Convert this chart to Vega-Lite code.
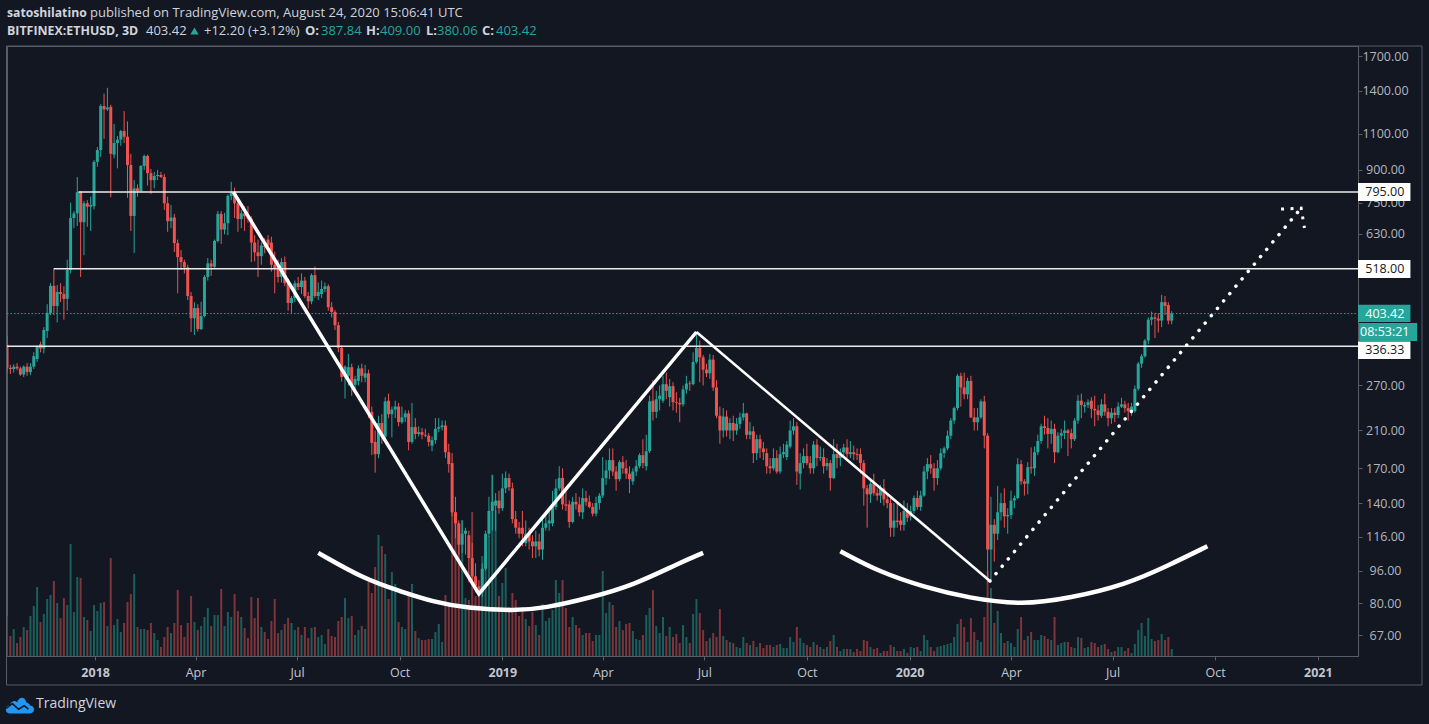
{"$schema":"https://vega.github.io/schema/vega-lite/v6.json","width":1351,"height":610,"autosize":{"type":"none"},"padding":{"left":7,"top":46,"right":71,"bottom":68},"background":"#131722","view":{"stroke":"#5a5d68","fill":"#131722"},"config":{"text":{"font":"Open Sans"},"axis":{"labelFont":"Open Sans"},"scale":{"continuousPadding":0}},
"datasets":{"bars":[
{"d":"2017-10-14","o":339,"h":356,"l":292,"c":298,"v":40},{"d":"2017-10-17","o":298,"h":303,"l":288,"c":296,"v":20},{"d":"2017-10-20","o":296,"h":304,"l":290,"c":300,"v":27},{"d":"2017-10-23","o":300,"h":306,"l":294,"c":297,"v":13},{"d":"2017-10-26","o":297,"h":300,"l":285,"c":287,"v":19},{"d":"2017-10-29","o":287,"h":302,"l":283,"c":300,"v":29},
{"d":"2017-11-01","o":300,"h":306,"l":285,"c":291,"v":26},{"d":"2017-11-04","o":291,"h":306,"l":286,"c":300,"v":40},{"d":"2017-11-07","o":300,"h":325,"l":296,"c":318,"v":50},{"d":"2017-11-10","o":313,"h":338,"l":308,"c":335,"v":69},{"d":"2017-11-13","o":340,"h":345,"l":325,"c":332,"v":34},{"d":"2017-11-16","o":332,"h":374,"l":323,"c":368,"v":42},{"d":"2017-11-19","o":366,"h":425,"l":352,"c":405,"v":57},{"d":"2017-11-22","o":405,"h":478,"l":400,"c":471,"v":61},{"d":"2017-11-25","o":471,"h":520,"l":400,"c":421,"v":75},{"d":"2017-11-28","o":421,"h":473,"l":384,"c":455,"v":53},
{"d":"2017-12-01","o":455,"h":478,"l":430,"c":450,"v":38},{"d":"2017-12-04","o":450,"h":470,"l":390,"c":438,"v":58},{"d":"2017-12-07","o":438,"h":545,"l":410,"c":515,"v":51},{"d":"2017-12-10","o":515,"h":750,"l":505,"c":688,"v":112},{"d":"2017-12-13","o":688,"h":715,"l":650,"c":706,"v":44},{"d":"2017-12-16","o":706,"h":865,"l":658,"c":795,"v":79},{"d":"2017-12-19","o":795,"h":800,"l":495,"c":672,"v":78},{"d":"2017-12-22","o":672,"h":757,"l":559,"c":747,"v":39},{"d":"2017-12-25","o":747,"h":760,"l":655,"c":733,"v":36},{"d":"2017-12-28","o":733,"h":775,"l":640,"c":740,"v":25},{"d":"2017-12-31","o":735,"h":950,"l":722,"c":941,"v":51},
{"d":"2018-01-03","o":941,"h":1023,"l":915,"c":1006,"v":45},{"d":"2018-01-06","o":1006,"h":1300,"l":968,"c":1286,"v":53},{"d":"2018-01-09","o":1286,"h":1378,"l":1070,"c":1262,"v":54},{"d":"2018-01-12","o":1262,"h":1424,"l":1250,"c":1275,"v":30},{"d":"2018-01-15","o":1280,"h":1295,"l":773,"c":985,"v":98},{"d":"2018-01-18","o":980,"h":1163,"l":960,"c":1046,"v":31},{"d":"2018-01-21","o":1046,"h":1088,"l":908,"c":1066,"v":37},{"d":"2018-01-24","o":1066,"h":1125,"l":1030,"c":1118,"v":24},{"d":"2018-01-27","o":1118,"h":1250,"l":1046,"c":1083,"v":33},{"d":"2018-01-30","o":1083,"h":1180,"l":770,"c":925,"v":54},
{"d":"2018-02-02","o":925,"h":985,"l":640,"c":696,"v":62},{"d":"2018-02-05","o":696,"h":850,"l":566,"c":812,"v":82},{"d":"2018-02-08","o":812,"h":830,"l":775,"c":800,"v":29},{"d":"2018-02-11","o":800,"h":925,"l":795,"c":920,"v":27},{"d":"2018-02-14","o":920,"h":980,"l":900,"c":973,"v":27},{"d":"2018-02-17","o":973,"h":980,"l":825,"c":884,"v":26},{"d":"2018-02-20","o":884,"h":905,"l":787,"c":850,"v":33},{"d":"2018-02-23","o":850,"h":890,"l":812,"c":870,"v":23},{"d":"2018-02-26","o":870,"h":900,"l":850,"c":875,"v":16},
{"d":"2018-03-01","o":875,"h":890,"l":860,"c":865,"v":9},{"d":"2018-03-04","o":865,"h":880,"l":720,"c":747,"v":19},{"d":"2018-03-07","o":747,"h":775,"l":637,"c":676,"v":29},{"d":"2018-03-10","o":676,"h":740,"l":650,"c":690,"v":23},{"d":"2018-03-13","o":690,"h":704,"l":569,"c":598,"v":33},{"d":"2018-03-16","o":598,"h":610,"l":452,"c":553,"v":66},{"d":"2018-03-19","o":553,"h":575,"l":515,"c":538,"v":31},{"d":"2018-03-22","o":538,"h":545,"l":505,"c":522,"v":19},{"d":"2018-03-25","o":522,"h":530,"l":435,"c":445,"v":33},{"d":"2018-03-28","o":445,"h":455,"l":364,"c":393,"v":60},{"d":"2018-03-31","o":393,"h":430,"l":358,"c":416,"v":34},
{"d":"2018-04-03","o":416,"h":425,"l":365,"c":370,"v":26},{"d":"2018-04-06","o":370,"h":431,"l":368,"c":398,"v":30},{"d":"2018-04-09","o":398,"h":500,"l":395,"c":495,"v":39},{"d":"2018-04-12","o":495,"h":550,"l":485,"c":534,"v":48},{"d":"2018-04-15","o":534,"h":545,"l":498,"c":524,"v":30},{"d":"2018-04-18","o":524,"h":610,"l":520,"c":605,"v":41},{"d":"2018-04-21","o":605,"h":715,"l":600,"c":704,"v":41},{"d":"2018-04-24","o":704,"h":715,"l":595,"c":645,"v":67},{"d":"2018-04-27","o":645,"h":708,"l":628,"c":668,"v":30},{"d":"2018-04-30","o":668,"h":785,"l":625,"c":778,"v":44},
{"d":"2018-05-03","o":778,"h":842,"l":760,"c":795,"v":39},{"d":"2018-05-06","o":795,"h":815,"l":688,"c":747,"v":62},{"d":"2018-05-09","o":747,"h":760,"l":637,"c":684,"v":45},{"d":"2018-05-12","o":684,"h":720,"l":650,"c":706,"v":39},{"d":"2018-05-15","o":706,"h":735,"l":640,"c":695,"v":28},{"d":"2018-05-18","o":695,"h":735,"l":670,"c":685,"v":18},{"d":"2018-05-21","o":685,"h":695,"l":538,"c":600,"v":59},{"d":"2018-05-24","o":600,"h":625,"l":540,"c":568,"v":38},{"d":"2018-05-27","o":568,"h":610,"l":495,"c":556,"v":58},{"d":"2018-05-30","o":556,"h":600,"l":530,"c":590,"v":29},
{"d":"2018-06-02","o":590,"h":615,"l":565,"c":585,"v":24},{"d":"2018-06-05","o":610,"h":625,"l":575,"c":590,"v":17},{"d":"2018-06-08","o":600,"h":620,"l":510,"c":530,"v":35},{"d":"2018-06-11","o":530,"h":570,"l":452,"c":520,"v":57},{"d":"2018-06-14","o":525,"h":545,"l":480,"c":495,"v":23},{"d":"2018-06-17","o":495,"h":550,"l":480,"c":538,"v":26},{"d":"2018-06-20","o":538,"h":555,"l":470,"c":478,"v":32},{"d":"2018-06-23","o":478,"h":490,"l":410,"c":428,"v":38},{"d":"2018-06-26","o":428,"h":445,"l":405,"c":440,"v":33},{"d":"2018-06-29","o":440,"h":485,"l":430,"c":478,"v":26},
{"d":"2018-07-02","o":478,"h":495,"l":460,"c":468,"v":29},{"d":"2018-07-05","o":468,"h":505,"l":450,"c":485,"v":21},{"d":"2018-07-08","o":485,"h":495,"l":440,"c":445,"v":29},{"d":"2018-07-11","o":445,"h":455,"l":415,"c":432,"v":18},{"d":"2018-07-14","o":432,"h":505,"l":425,"c":500,"v":28},{"d":"2018-07-17","o":500,"h":525,"l":440,"c":445,"v":29},{"d":"2018-07-20","o":445,"h":480,"l":435,"c":455,"v":19},{"d":"2018-07-23","o":450,"h":485,"l":440,"c":463,"v":21},{"d":"2018-07-26","o":463,"h":480,"l":455,"c":470,"v":12},{"d":"2018-07-29","o":470,"h":475,"l":410,"c":418,"v":27},
{"d":"2018-08-01","o":418,"h":430,"l":395,"c":407,"v":20},{"d":"2018-08-04","o":407,"h":412,"l":368,"c":378,"v":19},{"d":"2018-08-07","o":378,"h":385,"l":325,"c":333,"v":35},{"d":"2018-08-10","o":333,"h":338,"l":276,"c":283,"v":39},{"d":"2018-08-13","o":283,"h":302,"l":251,"c":300,"v":58},{"d":"2018-08-16","o":285,"h":322,"l":270,"c":299,"v":38},{"d":"2018-08-19","o":299,"h":305,"l":255,"c":271,"v":40},{"d":"2018-08-22","o":271,"h":285,"l":260,"c":280,"v":21},{"d":"2018-08-25","o":277,"h":302,"l":270,"c":297,"v":26},{"d":"2018-08-28","o":297,"h":305,"l":275,"c":285,"v":30},{"d":"2018-08-31","o":282,"h":303,"l":275,"c":289,"v":27},
{"d":"2018-09-03","o":289,"h":295,"l":225,"c":233,"v":74},{"d":"2018-09-06","o":233,"h":240,"l":183,"c":196,"v":63},{"d":"2018-09-09","o":197,"h":210,"l":166,"c":184,"v":89},{"d":"2018-09-12","o":184,"h":228,"l":180,"c":219,"v":121},{"d":"2018-09-15","o":219,"h":230,"l":195,"c":203,"v":110},{"d":"2018-09-18","o":203,"h":253,"l":200,"c":247,"v":102},{"d":"2018-09-21","o":248,"h":258,"l":225,"c":230,"v":57},{"d":"2018-09-24","o":230,"h":240,"l":202,"c":236,"v":84},{"d":"2018-09-27","o":236,"h":248,"l":225,"c":240,"v":72},{"d":"2018-09-30","o":240,"h":245,"l":215,"c":220,"v":34},
{"d":"2018-10-03","o":220,"h":240,"l":218,"c":226,"v":29},{"d":"2018-10-06","o":226,"h":235,"l":220,"c":231,"v":27},{"d":"2018-10-09","o":231,"h":235,"l":188,"c":197,"v":60},{"d":"2018-10-12","o":197,"h":245,"l":195,"c":214,"v":72},{"d":"2018-10-15","o":214,"h":225,"l":200,"c":206,"v":25},{"d":"2018-10-18","o":206,"h":215,"l":203,"c":208,"v":18},{"d":"2018-10-21","o":208,"h":213,"l":200,"c":205,"v":16},{"d":"2018-10-24","o":205,"h":212,"l":202,"c":204,"v":16},{"d":"2018-10-27","o":204,"h":207,"l":192,"c":197,"v":17},{"d":"2018-10-30","o":193,"h":203,"l":187,"c":199,"v":17},
{"d":"2018-11-02","o":199,"h":225,"l":195,"c":212,"v":24},{"d":"2018-11-05","o":212,"h":225,"l":208,"c":214,"v":32},{"d":"2018-11-08","o":214,"h":222,"l":210,"c":216,"v":14},{"d":"2018-11-11","o":216,"h":222,"l":180,"c":186,"v":61},{"d":"2018-11-14","o":186,"h":195,"l":166,"c":174,"v":51},{"d":"2018-11-17","o":175,"h":185,"l":130,"c":133,"v":156},{"d":"2018-11-20","o":133,"h":145,"l":115,"c":125,"v":144},{"d":"2018-11-23","o":125,"h":127,"l":105,"c":111,"v":133},{"d":"2018-11-26","o":111,"h":127,"l":106,"c":118,"v":136},{"d":"2018-11-29","o":118,"h":122,"l":105,"c":120,"v":58},
{"d":"2018-12-02","o":117,"h":120,"l":90,"c":103,"v":56},{"d":"2018-12-05","o":103,"h":112,"l":90,"c":93,"v":144},{"d":"2018-12-08","o":93,"h":100,"l":85,"c":88,"v":60},{"d":"2018-12-11","o":88,"h":91,"l":84,"c":85,"v":60},{"d":"2018-12-14","o":85,"h":100,"l":83,"c":97,"v":100},{"d":"2018-12-17","o":97,"h":120,"l":96,"c":118,"v":97},{"d":"2018-12-20","o":118,"h":145,"l":116,"c":134,"v":120},{"d":"2018-12-23","o":134,"h":164,"l":120,"c":141,"v":181},{"d":"2018-12-26","o":138,"h":148,"l":120,"c":142,"v":146},{"d":"2018-12-29","o":142,"h":150,"l":132,"c":136,"v":60},
{"d":"2019-01-01","o":136,"h":165,"l":134,"c":152,"v":73},{"d":"2019-01-04","o":152,"h":167,"l":148,"c":161,"v":88},{"d":"2019-01-07","o":161,"h":165,"l":150,"c":153,"v":49},{"d":"2019-01-10","o":152,"h":157,"l":125,"c":128,"v":63},{"d":"2019-01-13","o":128,"h":134,"l":118,"c":122,"v":56},{"d":"2019-01-16","o":122,"h":126,"l":115,"c":118,"v":40},{"d":"2019-01-19","o":122,"h":134,"l":110,"c":118,"v":49},{"d":"2019-01-22","o":112,"h":127,"l":110,"c":118,"v":37},{"d":"2019-01-25","o":118,"h":122,"l":108,"c":113,"v":30},{"d":"2019-01-28","o":113,"h":117,"l":103,"c":110,"v":44},{"d":"2019-01-31","o":110,"h":120,"l":103,"c":113,"v":31},
{"d":"2019-02-03","o":113,"h":118,"l":104,"c":108,"v":21},{"d":"2019-02-06","o":108,"h":128,"l":102,"c":122,"v":52},{"d":"2019-02-09","o":122,"h":133,"l":120,"c":125,"v":35},{"d":"2019-02-12","o":125,"h":135,"l":120,"c":127,"v":38},{"d":"2019-02-15","o":125,"h":150,"l":123,"c":137,"v":46},{"d":"2019-02-18","o":137,"h":160,"l":135,"c":152,"v":76},{"d":"2019-02-21","o":152,"h":172,"l":150,"c":161,"v":63},{"d":"2019-02-24","o":161,"h":170,"l":135,"c":139,"v":76},{"d":"2019-02-27","o":139,"h":150,"l":134,"c":138,"v":48},
{"d":"2019-03-02","o":139,"h":142,"l":122,"c":126,"v":29},{"d":"2019-03-05","o":126,"h":145,"l":125,"c":141,"v":39},{"d":"2019-03-08","o":141,"h":148,"l":135,"c":139,"v":31},{"d":"2019-03-11","o":139,"h":145,"l":130,"c":133,"v":28},{"d":"2019-03-14","o":133,"h":152,"l":128,"c":144,"v":21},{"d":"2019-03-17","o":144,"h":150,"l":138,"c":141,"v":23},{"d":"2019-03-20","o":141,"h":146,"l":136,"c":137,"v":23},{"d":"2019-03-23","o":137,"h":140,"l":130,"c":132,"v":15},{"d":"2019-03-26","o":132,"h":145,"l":130,"c":140,"v":21},{"d":"2019-03-29","o":140,"h":148,"l":135,"c":146,"v":21},
{"d":"2019-04-01","o":146,"h":181,"l":144,"c":161,"v":85},{"d":"2019-04-04","o":161,"h":178,"l":155,"c":168,"v":43},{"d":"2019-04-07","o":168,"h":190,"l":160,"c":178,"v":54},{"d":"2019-04-10","o":178,"h":190,"l":163,"c":167,"v":51},{"d":"2019-04-13","o":167,"h":172,"l":150,"c":160,"v":29},{"d":"2019-04-16","o":160,"h":178,"l":158,"c":176,"v":35},{"d":"2019-04-19","o":176,"h":182,"l":165,"c":170,"v":26},{"d":"2019-04-22","o":170,"h":178,"l":160,"c":165,"v":32},{"d":"2019-04-25","o":165,"h":172,"l":148,"c":160,"v":33},{"d":"2019-04-28","o":158,"h":170,"l":155,"c":167,"v":25},
{"d":"2019-05-01","o":167,"h":178,"l":163,"c":172,"v":17},{"d":"2019-05-04","o":172,"h":185,"l":170,"c":183,"v":16},{"d":"2019-05-07","o":183,"h":200,"l":170,"c":175,"v":21},{"d":"2019-05-10","o":172,"h":205,"l":168,"c":187,"v":41},{"d":"2019-05-13","o":187,"h":255,"l":185,"c":247,"v":48},{"d":"2019-05-16","o":248,"h":278,"l":222,"c":233,"v":66},{"d":"2019-05-19","o":233,"h":262,"l":225,"c":250,"v":30},{"d":"2019-05-22","o":250,"h":270,"l":235,"c":255,"v":23},{"d":"2019-05-25","o":248,"h":285,"l":245,"c":272,"v":39},{"d":"2019-05-28","o":272,"h":290,"l":250,"c":262,"v":20},{"d":"2019-05-31","o":253,"h":280,"l":240,"c":269,"v":29},
{"d":"2019-06-03","o":269,"h":275,"l":235,"c":246,"v":19},{"d":"2019-06-06","o":246,"h":260,"l":232,"c":245,"v":22},{"d":"2019-06-09","o":245,"h":252,"l":220,"c":243,"v":13},{"d":"2019-06-12","o":243,"h":270,"l":240,"c":264,"v":31},{"d":"2019-06-15","o":264,"h":285,"l":258,"c":273,"v":19},{"d":"2019-06-18","o":273,"h":277,"l":262,"c":272,"v":13},{"d":"2019-06-21","o":272,"h":325,"l":270,"c":308,"v":42},{"d":"2019-06-24","o":308,"h":364,"l":305,"c":333,"v":57},{"d":"2019-06-27","o":333,"h":347,"l":275,"c":316,"v":43},{"d":"2019-06-30","o":316,"h":320,"l":270,"c":295,"v":26},
{"d":"2019-07-03","o":295,"h":305,"l":283,"c":289,"v":15},{"d":"2019-07-06","o":289,"h":322,"l":280,"c":312,"v":18},{"d":"2019-07-09","o":312,"h":320,"l":262,"c":267,"v":23},{"d":"2019-07-12","o":267,"h":278,"l":225,"c":228,"v":19},{"d":"2019-07-15","o":228,"h":240,"l":195,"c":210,"v":47},{"d":"2019-07-18","o":210,"h":238,"l":202,"c":227,"v":20},{"d":"2019-07-21","o":227,"h":235,"l":203,"c":210,"v":16},{"d":"2019-07-24","o":210,"h":225,"l":200,"c":219,"v":14},{"d":"2019-07-27","o":219,"h":228,"l":198,"c":210,"v":13},{"d":"2019-07-30","o":210,"h":225,"l":205,"c":218,"v":9},
{"d":"2019-08-02","o":218,"h":232,"l":212,"c":226,"v":8},{"d":"2019-08-05","o":226,"h":245,"l":222,"c":231,"v":19},{"d":"2019-08-08","o":231,"h":232,"l":200,"c":205,"v":13},{"d":"2019-08-11","o":205,"h":220,"l":200,"c":209,"v":11},{"d":"2019-08-14","o":209,"h":215,"l":175,"c":185,"v":15},{"d":"2019-08-17","o":185,"h":205,"l":178,"c":200,"v":9},{"d":"2019-08-20","o":200,"h":205,"l":180,"c":190,"v":13},{"d":"2019-08-23","o":190,"h":197,"l":178,"c":186,"v":8},{"d":"2019-08-26","o":185,"h":190,"l":165,"c":172,"v":11},{"d":"2019-08-29","o":172,"h":180,"l":165,"c":170,"v":11},
{"d":"2019-09-01","o":170,"h":190,"l":168,"c":180,"v":9},{"d":"2019-09-04","o":180,"h":188,"l":165,"c":167,"v":11},{"d":"2019-09-07","o":167,"h":192,"l":165,"c":184,"v":12},{"d":"2019-09-10","o":184,"h":195,"l":180,"c":186,"v":8},{"d":"2019-09-13","o":181,"h":198,"l":178,"c":194,"v":8},{"d":"2019-09-16","o":192,"h":222,"l":190,"c":210,"v":19},{"d":"2019-09-19","o":210,"h":225,"l":205,"c":215,"v":14},{"d":"2019-09-22","o":215,"h":220,"l":155,"c":167,"v":29},{"d":"2019-09-25","o":165,"h":185,"l":151,"c":175,"v":18},{"d":"2019-09-28","o":175,"h":190,"l":170,"c":182,"v":13},
{"d":"2019-10-01","o":182,"h":195,"l":173,"c":175,"v":11},{"d":"2019-10-04","o":175,"h":182,"l":165,"c":170,"v":9},{"d":"2019-10-07","o":170,"h":198,"l":165,"c":194,"v":14},{"d":"2019-10-10","o":194,"h":200,"l":172,"c":180,"v":11},{"d":"2019-10-13","o":180,"h":192,"l":177,"c":181,"v":9},{"d":"2019-10-16","o":181,"h":190,"l":165,"c":172,"v":7},{"d":"2019-10-19","o":172,"h":180,"l":168,"c":175,"v":9},{"d":"2019-10-22","o":175,"h":178,"l":150,"c":161,"v":15},{"d":"2019-10-25","o":161,"h":200,"l":160,"c":184,"v":21},{"d":"2019-10-28","o":184,"h":195,"l":170,"c":180,"v":9},{"d":"2019-10-31","o":180,"h":190,"l":172,"c":186,"v":5},
{"d":"2019-11-03","o":186,"h":195,"l":180,"c":191,"v":7},{"d":"2019-11-06","o":191,"h":200,"l":180,"c":184,"v":7},{"d":"2019-11-09","o":184,"h":198,"l":180,"c":186,"v":7},{"d":"2019-11-12","o":186,"h":193,"l":178,"c":184,"v":4},{"d":"2019-11-15","o":184,"h":190,"l":178,"c":183,"v":7},{"d":"2019-11-18","o":184,"h":190,"l":165,"c":175,"v":5},{"d":"2019-11-21","o":175,"h":178,"l":138,"c":152,"v":16},{"d":"2019-11-24","o":152,"h":155,"l":122,"c":147,"v":15},{"d":"2019-11-27","o":147,"h":160,"l":140,"c":156,"v":9},{"d":"2019-11-30","o":156,"h":165,"l":146,"c":148,"v":7},
{"d":"2019-12-03","o":148,"h":152,"l":142,"c":146,"v":8},{"d":"2019-12-06","o":146,"h":155,"l":140,"c":152,"v":3},{"d":"2019-12-09","o":152,"h":160,"l":138,"c":143,"v":5},{"d":"2019-12-12","o":143,"h":148,"l":136,"c":140,"v":5},{"d":"2019-12-15","o":140,"h":145,"l":116,"c":122,"v":11},{"d":"2019-12-18","o":122,"h":140,"l":116,"c":127,"v":9},{"d":"2019-12-21","o":127,"h":140,"l":122,"c":126,"v":5},{"d":"2019-12-24","o":127,"h":133,"l":120,"c":124,"v":5},{"d":"2019-12-27","o":124,"h":142,"l":120,"c":134,"v":7},{"d":"2019-12-30","o":134,"h":140,"l":126,"c":129,"v":3},
{"d":"2020-01-02","o":130,"h":138,"l":127,"c":134,"v":9},{"d":"2020-01-05","o":134,"h":146,"l":132,"c":144,"v":8},{"d":"2020-01-08","o":144,"h":150,"l":135,"c":137,"v":9},{"d":"2020-01-11","o":137,"h":150,"l":134,"c":146,"v":5},{"d":"2020-01-14","o":146,"h":172,"l":145,"c":167,"v":21},{"d":"2020-01-17","o":167,"h":180,"l":160,"c":174,"v":16},{"d":"2020-01-20","o":174,"h":183,"l":165,"c":170,"v":9},{"d":"2020-01-23","o":170,"h":175,"l":150,"c":161,"v":5},{"d":"2020-01-26","o":161,"h":178,"l":155,"c":170,"v":9},{"d":"2020-01-29","o":170,"h":190,"l":168,"c":185,"v":10},
{"d":"2020-02-01","o":185,"h":192,"l":180,"c":190,"v":11},{"d":"2020-02-04","o":190,"h":210,"l":188,"c":204,"v":12},{"d":"2020-02-07","o":204,"h":225,"l":200,"c":222,"v":13},{"d":"2020-02-10","o":222,"h":240,"l":218,"c":238,"v":19},{"d":"2020-02-13","o":238,"h":288,"l":235,"c":285,"v":32},{"d":"2020-02-16","o":285,"h":290,"l":240,"c":267,"v":37},{"d":"2020-02-19","o":267,"h":290,"l":250,"c":257,"v":29},{"d":"2020-02-22","o":257,"h":282,"l":250,"c":277,"v":14},{"d":"2020-02-25","o":277,"h":285,"l":225,"c":226,"v":38},{"d":"2020-02-28","o":226,"h":238,"l":210,"c":220,"v":24},
{"d":"2020-03-02","o":220,"h":238,"l":210,"c":226,"v":16},{"d":"2020-03-05","o":226,"h":250,"l":224,"c":247,"v":14},{"d":"2020-03-08","o":247,"h":255,"l":190,"c":204,"v":39},{"d":"2020-03-11","o":204,"h":207,"l":90,"c":108,"v":85},{"d":"2020-03-14","o":108,"h":145,"l":90,"c":124,"v":68},{"d":"2020-03-17","o":124,"h":128,"l":101,"c":118,"v":33},{"d":"2020-03-20","o":118,"h":154,"l":114,"c":133,"v":45},{"d":"2020-03-23","o":133,"h":148,"l":127,"c":140,"v":23},{"d":"2020-03-26","o":140,"h":152,"l":122,"c":130,"v":13},{"d":"2020-03-29","o":130,"h":136,"l":118,"c":131,"v":15},
{"d":"2020-04-01","o":131,"h":150,"l":128,"c":142,"v":13},{"d":"2020-04-04","o":142,"h":146,"l":136,"c":144,"v":9},{"d":"2020-04-07","o":144,"h":180,"l":143,"c":174,"v":27},{"d":"2020-04-10","o":174,"h":178,"l":155,"c":158,"v":39},{"d":"2020-04-13","o":158,"h":160,"l":146,"c":156,"v":16},{"d":"2020-04-16","o":156,"h":176,"l":147,"c":171,"v":20},{"d":"2020-04-19","o":171,"h":191,"l":165,"c":170,"v":24},{"d":"2020-04-22","o":170,"h":192,"l":163,"c":186,"v":16},{"d":"2020-04-25","o":186,"h":205,"l":183,"c":198,"v":16},{"d":"2020-04-28","o":198,"h":218,"l":195,"c":215,"v":21},
{"d":"2020-05-01","o":215,"h":228,"l":205,"c":213,"v":20},{"d":"2020-05-04","o":213,"h":225,"l":190,"c":206,"v":17},{"d":"2020-05-07","o":206,"h":222,"l":195,"c":212,"v":16},{"d":"2020-05-10","o":212,"h":218,"l":175,"c":186,"v":39},{"d":"2020-05-13","o":186,"h":208,"l":185,"c":204,"v":11},{"d":"2020-05-16","o":204,"h":212,"l":190,"c":207,"v":13},{"d":"2020-05-19","o":207,"h":222,"l":200,"c":210,"v":14},{"d":"2020-05-22","o":210,"h":212,"l":182,"c":207,"v":14},{"d":"2020-05-25","o":207,"h":212,"l":190,"c":200,"v":9},{"d":"2020-05-28","o":200,"h":225,"l":198,"c":222,"v":8},{"d":"2020-05-31","o":222,"h":256,"l":218,"c":248,"v":19},
{"d":"2020-06-03","o":248,"h":258,"l":225,"c":242,"v":18},{"d":"2020-06-06","o":240,"h":246,"l":232,"c":242,"v":8},{"d":"2020-06-09","o":242,"h":250,"l":238,"c":246,"v":9},{"d":"2020-06-12","o":248,"h":253,"l":225,"c":237,"v":14},{"d":"2020-06-15","o":237,"h":255,"l":215,"c":235,"v":13},{"d":"2020-06-18","o":235,"h":242,"l":222,"c":229,"v":9},{"d":"2020-06-21","o":228,"h":250,"l":225,"c":243,"v":11},{"d":"2020-06-24","o":243,"h":258,"l":228,"c":233,"v":12},{"d":"2020-06-27","o":233,"h":238,"l":215,"c":225,"v":7},{"d":"2020-06-30","o":225,"h":238,"l":218,"c":232,"v":4},
{"d":"2020-07-03","o":232,"h":238,"l":220,"c":229,"v":5},{"d":"2020-07-06","o":229,"h":246,"l":225,"c":240,"v":9},{"d":"2020-07-09","o":240,"h":252,"l":238,"c":243,"v":9},{"d":"2020-07-12","o":243,"h":248,"l":232,"c":238,"v":5},{"d":"2020-07-15","o":238,"h":245,"l":222,"c":234,"v":8},{"d":"2020-07-18","o":234,"h":245,"l":228,"c":240,"v":3},{"d":"2020-07-21","o":234,"h":270,"l":232,"c":265,"v":12},{"d":"2020-07-24","o":265,"h":308,"l":262,"c":305,"v":26},{"d":"2020-07-27","o":305,"h":322,"l":298,"c":318,"v":33},{"d":"2020-07-30","o":318,"h":350,"l":315,"c":347,"v":20},
{"d":"2020-08-02","o":347,"h":395,"l":340,"c":390,"v":38},{"d":"2020-08-05","o":390,"h":408,"l":378,"c":395,"v":17},{"d":"2020-08-08","o":395,"h":405,"l":352,"c":392,"v":15},{"d":"2020-08-11","o":392,"h":404,"l":363,"c":388,"v":16},{"d":"2020-08-14","o":388,"h":448,"l":374,"c":430,"v":22},{"d":"2020-08-17","o":430,"h":445,"l":400,"c":421,"v":16},{"d":"2020-08-20","o":423,"h":430,"l":380,"c":388,"v":19},{"d":"2020-08-23","o":387.84,"h":409,"l":380.06,"c":403.42,"v":7}
]},
"resolve":{"scale":{"y":"independent"},"axis":{"x":"independent","y":"independent"}},
"layer":[
{"data":{"name":"bars"},"mark":{"type":"bar","size":2,"clip":true},"encoding":{
"x":{"field":"d","type":"temporal","title":null,"scale":{"type":"utc","padding":0,"domain":[{"year":2017,"month":10,"date":14,"utc":true},{"year":2021,"month":2,"date":6,"utc":true}]},"axis":{"values":[{"year":2018,"month":1,"date":1,"utc":true},{"year":2018,"month":4,"date":1,"utc":true},{"year":2018,"month":7,"date":1,"utc":true},{"year":2018,"month":10,"date":1,"utc":true},{"year":2019,"month":1,"date":1,"utc":true},{"year":2019,"month":4,"date":1,"utc":true},{"year":2019,"month":7,"date":1,"utc":true},{"year":2019,"month":10,"date":1,"utc":true},{"year":2020,"month":1,"date":1,"utc":true},{"year":2020,"month":4,"date":1,"utc":true},{"year":2020,"month":7,"date":1,"utc":true},{"year":2020,"month":10,"date":1,"utc":true},{"year":2021,"month":1,"date":1,"utc":true}],"grid":false,"labelExpr":"utcmonth(datum.value)===0?utcFormat(datum.value,'%Y'):utcFormat(datum.value,'%b')","labelFontWeight":{"condition":{"test":"utcmonth(datum.value)===0","value":"bold"},"value":"normal"},"labelColor":"#c3c6ce","labelFontSize":12.5,"labelPadding":6,"tickSize":4,"tickColor":"#5a5d68","domainColor":"#5a5d68","labelFlush":false,"labelOverlap":false}},
"y":{"field":"v","type":"quantitative","title":null,"axis":null,"scale":{"domain":[0,610],"nice":false}},
"color":{"condition":{"test":"datum.c>=datum.o","value":"#1b5f5d"},"value":"#7f3439"}}},
{"resolve":{"axis":{"x":"independent","y":"independent"}},"layer":[
{"data":{"name":"bars"},"mark":{"type":"rule","strokeWidth":1,"clip":true},"encoding":{
"x":{"field":"d","type":"temporal","title":null,"axis":null,"scale":{"type":"utc","domain":[{"year":2017,"month":10,"date":14,"utc":true},{"year":2021,"month":2,"date":6,"utc":true}]}},
"y":{"field":"h","type":"quantitative","title":null,"scale":{"type":"log","base":10,"domain":[59.6,1798],"nice":false,"zero":false},"axis":{"orient":"right","values":[1700,1400,1100,900,795,750,630,518,403.42,336.33,270,210,170,140,116,96,80,67],"grid":false,"labelExpr":"indexof([795,518,403.42,336.33],datum.value)>=0?'':format(datum.value,'.2f')","labelAlign":"center","labelPadding":23,"labelColor":"#b2b5be","labelFontSize":12.5,"tickSize":4,"tickColor":"#5a5d68","domainColor":"#5a5d68","labelOverlap":false,"labelBound":false}},
"y2":{"field":"l"},
"color":{"condition":{"test":"datum.c>=datum.o","value":"#26a69a"},"value":"#ef5350"}}},
{"data":{"name":"bars"},"mark":{"type":"bar","size":3,"clip":true},"encoding":{
"x":{"field":"d","type":"temporal","title":null,"axis":null,"scale":{"type":"utc","domain":[{"year":2017,"month":10,"date":14,"utc":true},{"year":2021,"month":2,"date":6,"utc":true}]}},
"y":{"field":"o","type":"quantitative","title":null,"axis":null,"scale":{"type":"log","base":10,"domain":[59.6,1798],"nice":false,"zero":false}},
"y2":{"field":"c"},
"color":{"condition":{"test":"datum.c>=datum.o","value":"#26a69a"},"value":"#ef5350"}}},
{"data":{"values":[{"p":403.42,"a":"2017-10-14","b":"2021-02-06"}]},"mark":{"type":"rule","strokeWidth":1,"strokeDash":[1.5,2],"color":"#26a69a"},"encoding":{
"x":{"field":"a","type":"temporal","title":null,"axis":null,"scale":{"type":"utc","domain":[{"year":2017,"month":10,"date":14,"utc":true},{"year":2021,"month":2,"date":6,"utc":true}]}},"x2":{"field":"b"},
"y":{"field":"p","type":"quantitative","title":null,"axis":null,"scale":{"type":"log","base":10,"domain":[59.6,1798],"nice":false,"zero":false}}}},
{"data":{"values":[{"p":795,"a":"2017-12-17","b":"2021-02-06"},{"p":518,"a":"2017-11-25","b":"2021-02-06"},{"p":336.33,"a":"2017-10-14","b":"2021-02-06"}]},"mark":{"type":"rule","strokeWidth":1.5,"color":"#ececec"},"encoding":{
"x":{"field":"a","type":"temporal","title":null,"axis":null,"scale":{"type":"utc","domain":[{"year":2017,"month":10,"date":14,"utc":true},{"year":2021,"month":2,"date":6,"utc":true}]}},"x2":{"field":"b"},
"y":{"field":"p","type":"quantitative","title":null,"axis":null,"scale":{"type":"log","base":10,"domain":[59.6,1798],"nice":false,"zero":false}}}},
{"data":{"values":[{"t":"2018-05-05","p":795},{"t":"2018-12-11","p":84.3},{"t":"2019-06-24","p":364}]},"mark":{"type":"line","color":"#ffffff","strokeWidth":3.5,"strokeJoin":"miter"},"encoding":{
"x":{"field":"t","type":"temporal","title":null,"axis":null,"scale":{"type":"utc","domain":[{"year":2017,"month":10,"date":14,"utc":true},{"year":2021,"month":2,"date":6,"utc":true}]}},
"y":{"field":"p","type":"quantitative","title":null,"axis":null,"scale":{"type":"log","base":10,"domain":[59.6,1798],"nice":false,"zero":false}}}},
{"data":{"values":[{"t":"2019-06-24","p":364},{"t":"2020-03-13","p":90.6}]},"mark":{"type":"line","color":"#ffffff","strokeWidth":2.6},"encoding":{
"x":{"field":"t","type":"temporal","title":null,"axis":null,"scale":{"type":"utc","domain":[{"year":2017,"month":10,"date":14,"utc":true},{"year":2021,"month":2,"date":6,"utc":true}]}},
"y":{"field":"p","type":"quantitative","title":null,"axis":null,"scale":{"type":"log","base":10,"domain":[59.6,1798],"nice":false,"zero":false}}}},
{"data":{"values":[{"t":"2020-03-13","p":90.6},{"t":"2020-12-17","p":727}]},"mark":{"type":"line","color":"#ffffff","strokeWidth":3.5,"strokeDash":[0.1,9.5],"strokeCap":"round"},"encoding":{
"x":{"field":"t","type":"temporal","title":null,"axis":null,"scale":{"type":"utc","domain":[{"year":2017,"month":10,"date":14,"utc":true},{"year":2021,"month":2,"date":6,"utc":true}]}},
"y":{"field":"p","type":"quantitative","title":null,"axis":null,"scale":{"type":"log","base":10,"domain":[59.6,1798],"nice":false,"zero":false}}}},
{"data":{"values":[{"t":"2020-11-29","p":723},{"t":"2020-12-17","p":727},{"t":"2020-12-20","p":651}]},"mark":{"type":"line","color":"#ffffff","strokeWidth":3,"strokeDash":[3,6.5]},"encoding":{
"x":{"field":"t","type":"temporal","title":null,"axis":null,"scale":{"type":"utc","domain":[{"year":2017,"month":10,"date":14,"utc":true},{"year":2021,"month":2,"date":6,"utc":true}]}},
"y":{"field":"p","type":"quantitative","title":null,"axis":null,"scale":{"type":"log","base":10,"domain":[59.6,1798],"nice":false,"zero":false}}}},
{"data":{"values":[{"t":"2018-07-20","p":106},{"t":"2018-09-01","p":91.1},{"t":"2018-10-01","p":85.7},{"t":"2018-10-31","p":80.6},{"t":"2018-11-30","p":77.9},{"t":"2019-01-12","p":76.6},{"t":"2019-02-08","p":77.9},{"t":"2019-03-20","p":82.4},{"t":"2019-04-29","p":88.6},{"t":"2019-06-08","p":100},{"t":"2019-06-30","p":106}]},"mark":{"type":"line","color":"#ffffff","strokeWidth":4.5,"interpolate":"basis"},"encoding":{
"x":{"field":"t","type":"temporal","title":null,"axis":null,"scale":{"type":"utc","domain":[{"year":2017,"month":10,"date":14,"utc":true},{"year":2021,"month":2,"date":6,"utc":true}]}},
"y":{"field":"p","type":"quantitative","title":null,"axis":null,"scale":{"type":"log","base":10,"domain":[59.6,1798],"nice":false,"zero":false}}}},
{"data":{"values":[{"t":"2019-10-31","p":107},{"t":"2019-12-05","p":95.3},{"t":"2020-01-14","p":87.6},{"t":"2020-02-23","p":82.4},{"t":"2020-04-11","p":79.2},{"t":"2020-05-24","p":82.4},{"t":"2020-07-12","p":88.6},{"t":"2020-08-21","p":99.1},{"t":"2020-09-24","p":110}]},"mark":{"type":"line","color":"#ffffff","strokeWidth":4.5,"interpolate":"basis"},"encoding":{
"x":{"field":"t","type":"temporal","title":null,"axis":null,"scale":{"type":"utc","domain":[{"year":2017,"month":10,"date":14,"utc":true},{"year":2021,"month":2,"date":6,"utc":true}]}},
"y":{"field":"p","type":"quantitative","title":null,"axis":null,"scale":{"type":"log","base":10,"domain":[59.6,1798],"nice":false,"zero":false}}}},
{"data":{"values":[{"a":"2021-02-06","b":"2021-03-25","t":836,"u":757},{"a":"2021-02-06","b":"2021-03-25","t":544,"u":492},{"a":"2021-02-06","b":"2021-03-25","t":345,"u":313}]},"mark":{"type":"rect","color":"#ffffff"},"encoding":{
"x":{"field":"a","type":"temporal","title":null,"axis":null,"scale":{"type":"utc","domain":[{"year":2017,"month":10,"date":14,"utc":true},{"year":2021,"month":2,"date":6,"utc":true}]}},"x2":{"field":"b"},
"y":{"field":"t","type":"quantitative","title":null,"axis":null,"scale":{"type":"log","base":10,"domain":[59.6,1798],"nice":false,"zero":false}},"y2":{"field":"u"}}},
{"data":{"values":[{"a":"2021-02-06","b":"2021-03-25","t":424,"u":385},{"a":"2021-02-07","b":"2021-03-31","t":383,"u":346}]},"mark":{"type":"rect","color":"#26a69a"},"encoding":{
"x":{"field":"a","type":"temporal","title":null,"axis":null,"scale":{"type":"utc","domain":[{"year":2017,"month":10,"date":14,"utc":true},{"year":2021,"month":2,"date":6,"utc":true}]}},"x2":{"field":"b"},
"y":{"field":"t","type":"quantitative","title":null,"axis":null,"scale":{"type":"log","base":10,"domain":[59.6,1798],"nice":false,"zero":false}},"y2":{"field":"u"}}},
{"data":{"values":[{"a":"2021-03-02","p":795,"s":"795.00"},{"a":"2021-03-02","p":518,"s":"518.00"},{"a":"2021-03-02","p":329,"s":"336.33"}]},"mark":{"type":"text","color":"#131722","fontSize":12.5,"align":"center","baseline":"middle"},"encoding":{
"x":{"field":"a","type":"temporal","title":null,"axis":null,"scale":{"type":"utc","domain":[{"year":2017,"month":10,"date":14,"utc":true},{"year":2021,"month":2,"date":6,"utc":true}]}},
"y":{"field":"p","type":"quantitative","title":null,"axis":null,"scale":{"type":"log","base":10,"domain":[59.6,1798],"nice":false,"zero":false}},"text":{"field":"s"}}},
{"data":{"values":[{"a":"2021-03-02","p":403.42,"s":"403.42"},{"a":"2021-03-02","p":364,"s":"08:53:21"}]},"mark":{"type":"text","color":"#ffffff","fontSize":12.5,"align":"center","baseline":"middle"},"encoding":{
"x":{"field":"a","type":"temporal","title":null,"axis":null,"scale":{"type":"utc","domain":[{"year":2017,"month":10,"date":14,"utc":true},{"year":2021,"month":2,"date":6,"utc":true}]}},
"y":{"field":"p","type":"quantitative","title":null,"axis":null,"scale":{"type":"log","base":10,"domain":[59.6,1798],"nice":false,"zero":false}},"text":{"field":"s"}}}
]},
{"data":{"values":[{}]},"mark":{"type":"rect","x":-0.5,"y":0,"x2":1415,"y2":639,"fill":null,"fillOpacity":0,"stroke":"#5a5d68","strokeWidth":1}},
{"data":{"values":[{}]},"mark":{"type":"text","text":"satoshilatino","x":0,"y":-33,"align":"left","baseline":"middle","fontSize":12.2,"fontWeight":"bold","color":"#d1d4dc"}},
{"data":{"values":[{}]},"mark":{"type":"text","text":"published on TradingView.com, August 24, 2020 15:06:41 UTC","x":83,"y":-33,"align":"left","baseline":"middle","fontSize":13,"color":"#d1d4dc"}},
{"data":{"values":[{}]},"mark":{"type":"text","text":"BITFINEX:ETHUSD, 3D","x":0,"y":-15,"align":"left","baseline":"middle","fontSize":12.4,"fontWeight":"bold","color":"#d1d4dc"}},
{"data":{"values":[{}]},"mark":{"type":"text","text":"403.42","x":139,"y":-15,"align":"left","baseline":"middle","fontSize":13,"color":"#d1d4dc"}},
{"data":{"values":[{}]},"mark":{"type":"point","shape":"triangle-up","filled":true,"size":70,"x":187.5,"y":-15,"color":"#26a69a","opacity":1}},
{"data":{"values":[{}]},"mark":{"type":"text","text":"+12.20 (+3.12%)","x":197,"y":-15,"align":"left","baseline":"middle","fontSize":13,"color":"#d1d4dc"}},
{"data":{"values":[{}]},"mark":{"type":"text","text":"O:","x":298,"y":-15,"align":"left","baseline":"middle","fontSize":13,"fontWeight":"bold","color":"#d1d4dc"}},
{"data":{"values":[{}]},"mark":{"type":"text","text":"387.84","x":314,"y":-15,"align":"left","baseline":"middle","fontSize":13,"color":"#26a69a"}},
{"data":{"values":[{}]},"mark":{"type":"text","text":"H:","x":359,"y":-15,"align":"left","baseline":"middle","fontSize":13,"fontWeight":"bold","color":"#d1d4dc"}},
{"data":{"values":[{}]},"mark":{"type":"text","text":"409.00","x":373,"y":-15,"align":"left","baseline":"middle","fontSize":13,"color":"#26a69a"}},
{"data":{"values":[{}]},"mark":{"type":"text","text":"L:","x":419,"y":-15,"align":"left","baseline":"middle","fontSize":13,"fontWeight":"bold","color":"#d1d4dc"}},
{"data":{"values":[{}]},"mark":{"type":"text","text":"380.06","x":430,"y":-15,"align":"left","baseline":"middle","fontSize":13,"color":"#26a69a"}},
{"data":{"values":[{}]},"mark":{"type":"text","text":"C:","x":475,"y":-15,"align":"left","baseline":"middle","fontSize":13,"fontWeight":"bold","color":"#d1d4dc"}},
{"data":{"values":[{}]},"mark":{"type":"text","text":"403.42","x":489,"y":-15,"align":"left","baseline":"middle","fontSize":13,"color":"#26a69a"}},
{"data":{"values":[{}]},"mark":{"type":"point","shape":"M-0.75,0.6 C-1.1,0.6 -1.1,0.05 -0.72,0 C-0.65,-0.3 -0.35,-0.35 -0.2,-0.2 C-0.1,-0.6 0.35,-0.65 0.45,-0.2 C0.6,-0.15 0.7,-0.05 0.75,0.05 C1.1,0.05 1.1,0.6 0.7,0.6 Z","filled":true,"size":784,"x":13,"y":659,"color":"#2196f3","opacity":1}},
{"data":{"values":[{}]},"mark":{"type":"point","shape":"M-1,0.25 L-0.55,-0.1 L-0.1,0.3 L0.3,0.05 L0.6,0.3","filled":false,"size":784,"x":13,"y":659,"color":"#131722","strokeWidth":1.5,"opacity":1}},
{"data":{"values":[{}]},"mark":{"type":"text","text":"TradingView","x":29,"y":658,"align":"left","baseline":"middle","fontSize":14,"color":"#d1d4dc"}}
]}
